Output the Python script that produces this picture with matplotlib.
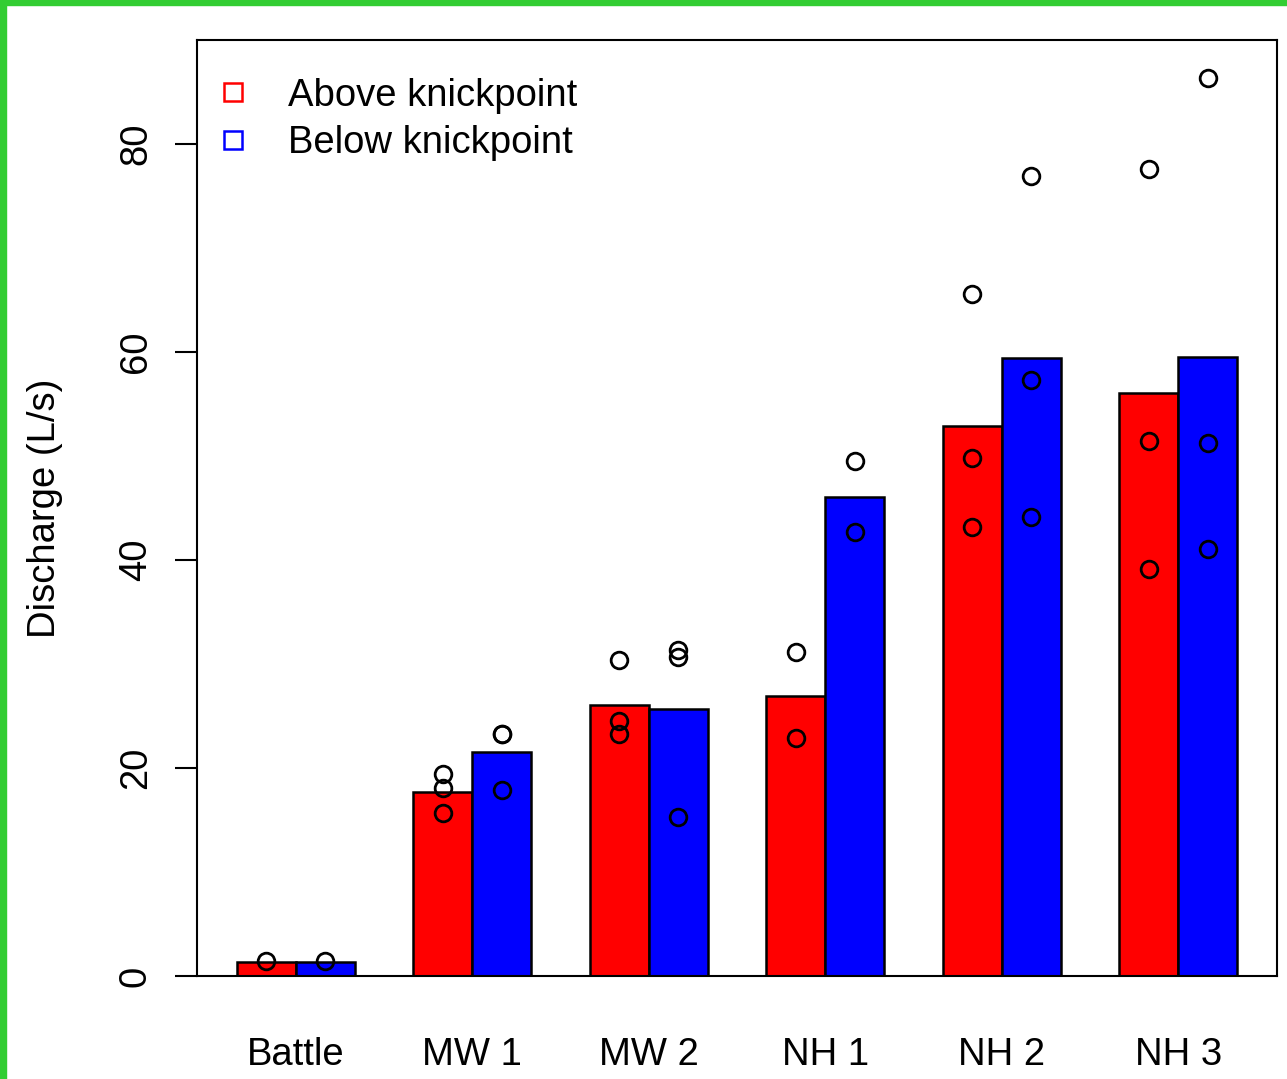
import matplotlib
matplotlib.use("Agg")
import matplotlib.pyplot as plt
from matplotlib.lines import Line2D
from matplotlib.patches import Rectangle
import numpy as np

plt.rcParams['font.family'] = ['Liberation Sans', 'DejaVu Sans']

sites = ['Battle', 'MW 1', 'MW 2', 'NH 1', 'NH 2', 'NH 3']
above_mean = [1.35, 17.7, 26.1, 26.9, 52.9, 56.1]
below_mean = [1.35, 21.5, 25.7, 46.1, 59.4, 59.5]

above_pts = [
    [1.4],
    [19.4, 18.1, 15.7],
    [30.4, 24.5, 23.3],
    [31.2, 22.9],
    [65.6, 49.8, 43.2],
    [77.6, 51.4, 39.1],
]
below_pts = [
    [1.4],
    [23.3, 23.3, 17.9],
    [31.3, 30.7, 15.3],
    [49.5, 42.7],
    [76.9, 57.3, 44.1],
    [86.3, 51.25, 41.1],
]

W, H = 1287, 1079
fig = plt.figure(figsize=(W / 100, H / 100), dpi=100)
ax = fig.add_axes([197 / W, (H - 976) / H, (1277 - 197) / W, (976 - 40) / H])

# R barplot layout: bars of width 1, one bar gap between groups
n = len(sites)
red_x = 1.5 + 3 * np.arange(n)
blue_x = red_x + 1
ax.bar(red_x, above_mean, width=1, color='#FF0000', edgecolor='black', linewidth=1.8, zorder=2)
ax.bar(blue_x, below_mean, width=1, color='#0000FF', edgecolor='black', linewidth=1.8, zorder=2)

for i in range(n):
    ax.plot([red_x[i]] * len(above_pts[i]), above_pts[i], 'o', mfc='none', mec='black',
            ms=12, mew=2, zorder=3)
    ax.plot([blue_x[i]] * len(below_pts[i]), below_pts[i], 'o', mfc='none', mec='black',
            ms=12, mew=2, zorder=3)

ax.set_xlim(0.32, 18.68)
ax.set_ylim(0, 90)
ax.set_xticks(red_x + 0.5)
ax.set_xticklabels(sites)
ax.tick_params(axis='x', length=0, pad=44, labelsize=27.5)
ax.set_yticks([0, 20, 40, 60, 80])
ax.tick_params(axis='y', length=16, width=1.5, pad=15, labelsize=27.5)
for lab in ax.get_yticklabels():
    lab.set_rotation(90)
    lab.set_va('center')
for s in ax.spines.values():
    s.set_linewidth(1.5)

ax.set_ylabel('Discharge (L/s)', fontsize=27.5)
ax.yaxis.set_label_coords(-0.124, 0.5)

handles = [
    Line2D([], [], marker='s', ls='none', mfc='none', mec='#FF0000', ms=13, mew=1.8),
    Line2D([], [], marker='s', ls='none', mfc='none', mec='#0000FF', ms=13, mew=1.8),
]
ax.legend(handles, ['Above knickpoint', 'Below knickpoint'], loc='upper left',
          bbox_to_anchor=(0, 0.978), frameon=False, fontsize=27.5, handlelength=1.0,
          handletextpad=0.92, borderpad=0.45, borderaxespad=0, labelspacing=0.3)

# green frame strips at the top and left edge
fig.patches.append(Rectangle((0, 0), 6 / W, 1, transform=fig.transFigure, color='#32CD32'))
fig.patches.append(Rectangle((0, 1 - 4.5 / H), 1, 4.5 / H, transform=fig.transFigure, color='#32CD32'))

fig.savefig('out.png', dpi=100)
